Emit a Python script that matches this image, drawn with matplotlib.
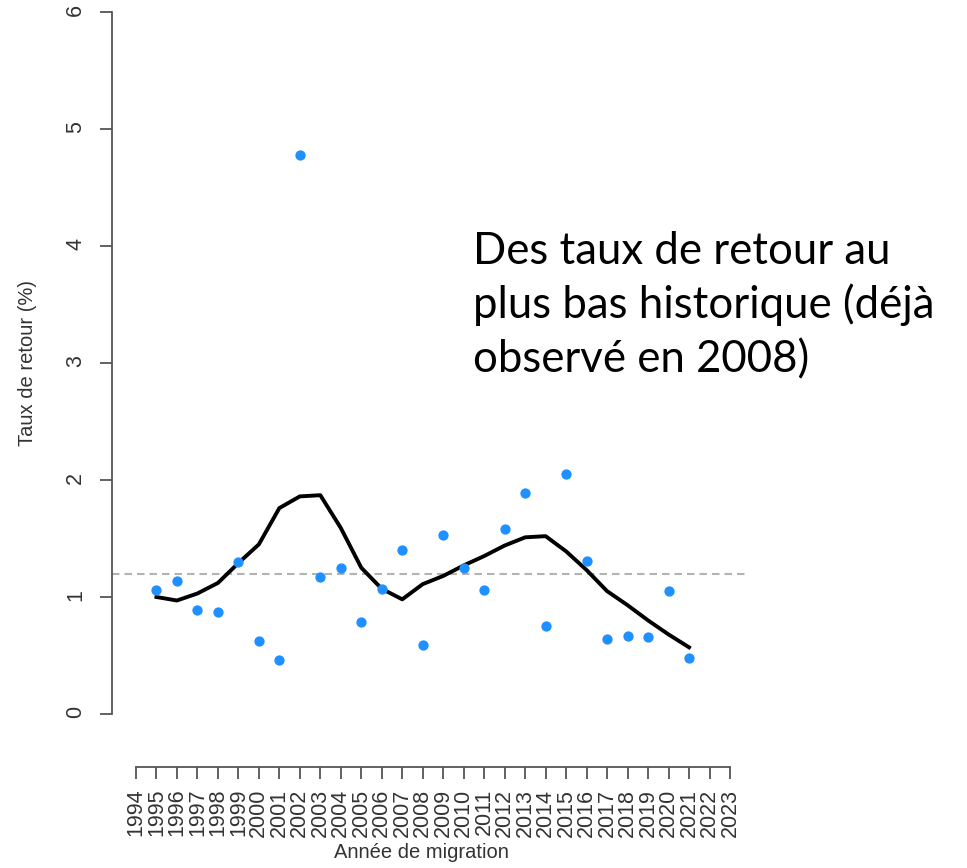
import matplotlib
matplotlib.use("Agg")
import matplotlib.pyplot as plt
import numpy as np

# années de migration observées
annees = np.arange(1995, 2022)
# taux de retour observés (%)
taux = [1.06, 1.14, 0.89, 0.87, 1.30, 0.62, 0.46, 4.78, 1.17, 1.25,
        0.79, 1.07, 1.40, 0.59, 1.53, 1.25, 1.06, 1.58, 1.89, 0.75,
        2.05, 1.31, 0.64, 0.67, 0.66, 1.05, 0.48]
# courbe lissée
lisse = [1.00, 0.97, 1.03, 1.12, 1.29, 1.45, 1.76, 1.86, 1.87, 1.59,
         1.25, 1.07, 0.98, 1.11, 1.18, 1.27, 1.35, 1.44, 1.51, 1.52,
         1.39, 1.23, 1.05, 0.93, 0.80, 0.68, 0.57]
moyenne = 1.2
annees_axe = np.arange(1994, 2024)
y_ticks = [0, 1, 2, 3, 4, 5, 6]

note = ["Des taux de retour au",
        "plus bas historique (déjà",
        "observé en 2008)"]

W, H = 967, 868
fig = plt.figure(figsize=(W / 100, H / 100), dpi=100)
ax = fig.add_axes([112 / W, (H - 767) / H, 635 / W, 767 / H])

axe_col = "#555555"
txt_col = "#333333"
plt.rcParams["font.family"] = ["Liberation Sans", "DejaVu Sans"]

ax.axhline(moyenne, color="#b3b3b3", lw=1.5, dashes=(3.6, 2.4), zorder=1)
ax.plot(annees, lisse, color="black", lw=2.8, zorder=2)
ax.plot(annees, taux, "o", color="#1e90ff", ms=7.4, mew=0, zorder=3)

ax.set_xlim(1992.83, 2023.83)
ax.set_ylim((714 - 767) / 117, 714 / 117)

for s in ["top", "right"]:
    ax.spines[s].set_visible(False)
ax.spines["left"].set_bounds(0, 6)
ax.spines["bottom"].set_bounds(1994, 2023)
for s in ["left", "bottom"]:
    ax.spines[s].set_color(axe_col)
    ax.spines[s].set_linewidth(1.3)

ax.set_xticks(annees_axe)
ax.set_xticklabels([str(a) for a in annees_axe], family="Liberation Sans")
ax.set_yticks(y_ticks)
ax.set_yticklabels([str(v) for v in y_ticks], family="Liberation Sans")
ax.tick_params(axis="x", labelrotation=90, length=8.6, width=1.3, pad=7,
               color=axe_col, labelcolor=txt_col, labelsize=15.5)
ax.tick_params(axis="y", labelrotation=90, length=8.6, width=1.3, pad=10,
               color=axe_col, labelcolor=txt_col, labelsize=15.5)

fig.text(28 / W, 1 - 363 / H, "Taux de retour (%)", rotation=90,
         ha="center", va="center", fontsize=14.5, color=txt_col,
         family="Liberation Sans")
fig.text(421 / W, 1 - 853 / H, "Année de migration",
         ha="center", va="center", fontsize=14.5, color=txt_col,
         family="Liberation Sans")

for i, ligne in enumerate(note):
    fig.text(473 / W, 1 - (264 + 54 * i) / H, ligne, ha="left",
             va="baseline", fontsize=31.5, color="black", family="Lato")

fig.savefig("out.png", dpi=100)
